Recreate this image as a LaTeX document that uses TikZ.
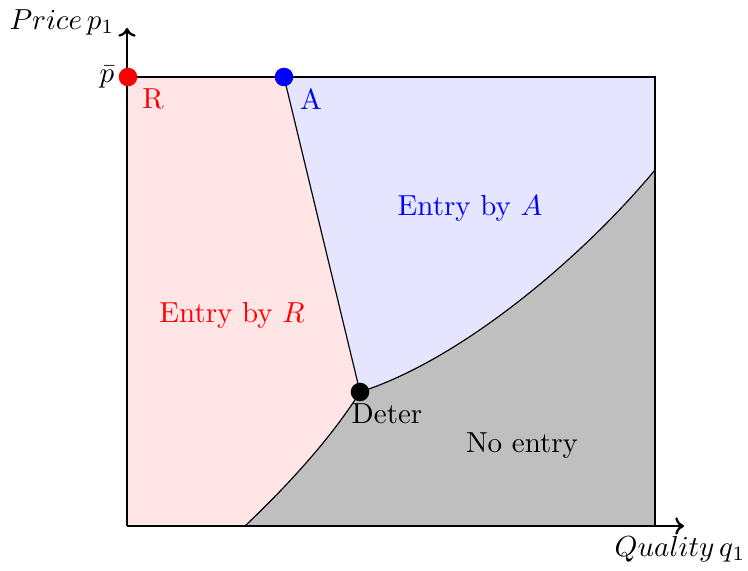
\documentclass[tikz,border=0pt]{standalone}
\usetikzlibrary{arrows.meta}
\begin{document}
\begin{tikzpicture}[x=0.345pt,y=-0.345pt,
  axis/.style={thick,-{To[length=3pt,width=6pt]}},
  dotmark/.style={circle,inner sep=0pt,minimum size=6.4pt},
  edge/.style={black,line width=0.4pt}]
\useasboundingbox (0,0) rectangle (748,570);
\coordinate (O) at (127,526);
\coordinate (TL) at (127,77);
\coordinate (TR) at (655,77);
\coordinate (BR) at (655,526);
\coordinate (Apt) at (284,77);
\coordinate (D) at (360,392);
\coordinate (B) at (245,526);
\coordinate (E) at (655,170);
% regions
\fill[red!10] (O) -- (TL) -- (Apt) -- (D) .. controls (330,440) and (285,488) .. (B) -- cycle;
\fill[blue!10] (Apt) -- (TR) -- (E) .. controls (580,260) and (460,360) .. (D) -- cycle;
\fill[gray!50] (B) .. controls (285,488) and (330,440) .. (D) .. controls (460,360) and (580,260) .. (E) -- (BR) -- cycle;
% boundaries
\draw[edge] (TL) -- (TR) -- (BR);
\draw[edge] (Apt) -- (D);
\draw[edge] (B) .. controls (285,488) and (330,440) .. (D) .. controls (460,360) and (580,260) .. (E);
% axes
\coordinate (Ytip) at (127,28);
\coordinate (Xtip) at (684,526);
\draw[axis] (O) -- (Ytip);
\draw[axis] (O) -- (Xtip);
\node (ylab) at (62,22) {$Price\,p_1$};
\node (xlab) at (680,549) {$Quality\,q_1$};
\node (pbar) at (107,77) {$\bar p$};
% points
\node[dotmark,fill=red] (R) at (128,77) {};
\node[dotmark,fill=blue] (A) at (284,77) {};
\node[dotmark,fill=black] (Dt) at (360,392) {};
\node[red] (Rl) at (153,99) {R};
\node[blue] (Al) at (311,99) {A};
\node (Dl) at (387,414) {Deter};
% region labels
\node[red] (er) at (232,315) {Entry by $R$};
\node[blue] (ea) at (470,208) {Entry by $A$};
\node (ne) at (522,446) {No entry};
\end{tikzpicture}
\end{document}
